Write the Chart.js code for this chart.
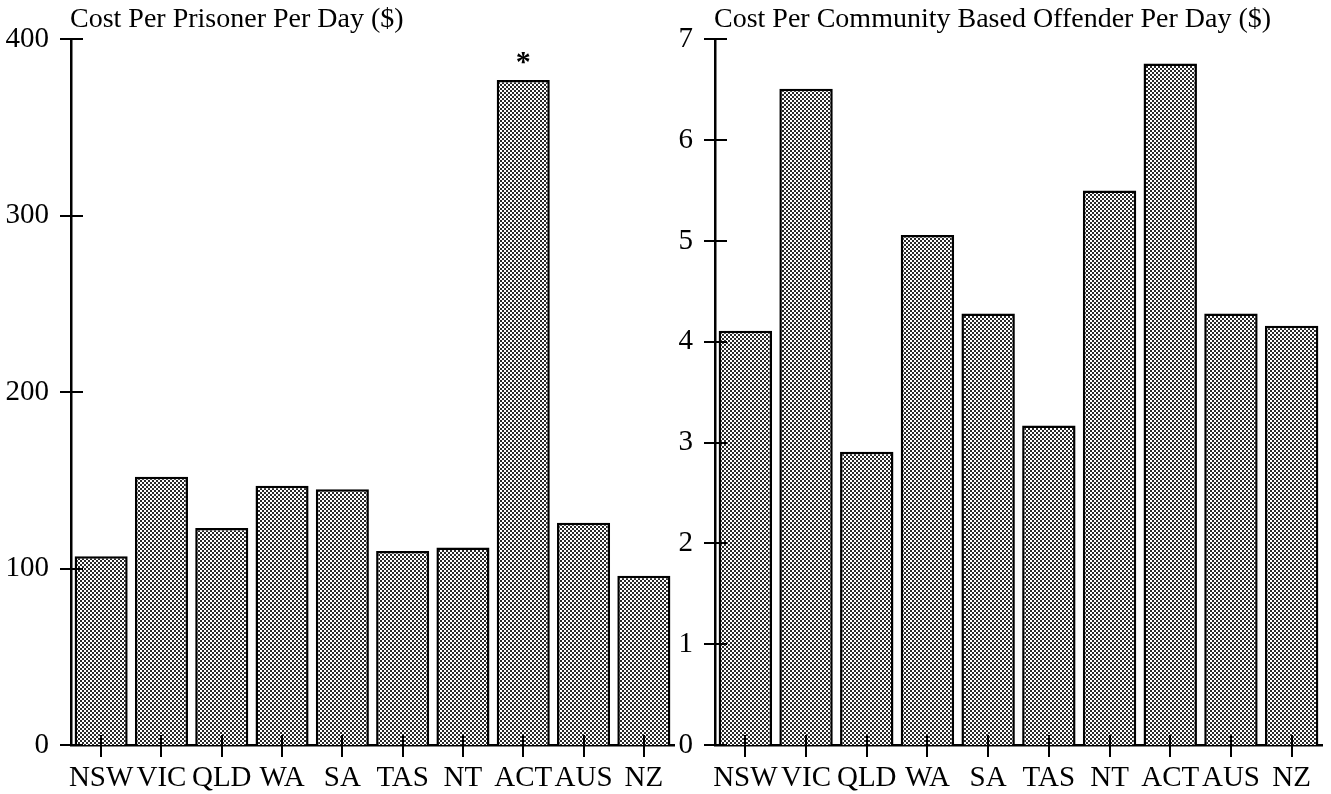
<!DOCTYPE html>
<html><head><meta charset="utf-8">
<script src="https://cdn.jsdelivr.net/npm/chart.js@4"></script>
<style>
html,body{margin:0;padding:0;background:#fff;width:1331px;height:794px;overflow:hidden}
canvas{position:absolute;top:0}
#c1{left:0}
#c2{left:676px}
</style></head><body>
<canvas id="c1" width="680" height="794"></canvas>
<canvas id="c2" width="655" height="794"></canvas>
<script>
const categories = ['NSW','VIC','QLD','WA','SA','TAS','NT','ACT','AUS','NZ'];
const prisonerCost = [107,152,123,147,145,110,112,377,126,96];
const communityCost = [4.11,6.51,2.91,5.06,4.28,3.17,5.50,6.76,4.28,4.16];
const prisonerTicks = [0,100,200,300,400];
const communityTicks = [0,1,2,3,4,5,6,7];
const prisonerTitle = 'Cost Per Prisoner Per Day ($)';
const communityTitle = 'Cost Per Community Based Offender Per Day ($)';
const markedCategory = 'ACT';

Chart.defaults.font.family = '"Liberation Serif", "Times New Roman", serif';
Chart.defaults.font.size = 29;
Chart.defaults.color = '#000';

function makePattern(ctx){
  const c = document.createElement('canvas');
  c.width = 4; c.height = 4;
  const g = c.getContext('2d');
  g.fillStyle = '#fff'; g.fillRect(0,0,4,4);
  g.fillStyle = '#2a2a2a';
  g.fillRect(0,0,2,2); g.fillRect(2,2,2,2);
  return ctx.createPattern(c,'repeat');
}

const decor = {
  id:'decor',
  afterDraw(chart, args, opts){
    const {ctx, chartArea:a, scales:{x,y}} = chart;
    ctx.save();
    ctx.strokeStyle = '#000'; ctx.lineWidth = 2;
    y.ticks.forEach((t,i)=>{
      const py = Math.round(y.getPixelForTick(i));
      ctx.beginPath(); ctx.moveTo(a.left-11,py); ctx.lineTo(a.left+12,py); ctx.stroke();
    });
    x.ticks.forEach((t,i)=>{
      const px = Math.round(x.getPixelForTick(i));
      ctx.beginPath(); ctx.moveTo(px,a.bottom-10); ctx.lineTo(px,a.bottom+12); ctx.stroke();
    });
    ctx.fillStyle = '#000';
    ctx.font = '28px "Liberation Serif"';
    ctx.textBaseline = 'alphabetic'; ctx.textAlign = 'left';
    ctx.fillText(opts.title, a.left-1, 27);
    if (opts.mark){
      const idx = chart.data.labels.indexOf(opts.mark);
      if (idx >= 0){
        const bar = chart.getDatasetMeta(0).data[idx];
        ctx.font = 'bold 30px "Liberation Serif"';
        const m = ctx.measureText('*');
        ctx.textAlign = 'center';
        const cy = bar.y - 22;
        ctx.fillText('*', bar.x, cy + (m.actualBoundingBoxAscent - m.actualBoundingBoxDescent)/2);
      }
    }
    ctx.restore();
  }
};

function build(id, values, ticks, max, title, mark, yWidth, padTop, padRight){
  const cv = document.getElementById(id);
  const ctx = cv.getContext('2d');
  return new Chart(ctx, {
    type:'bar',
    data:{
      labels: categories,
      datasets:[{
        data: values,
        backgroundColor: makePattern(ctx),
        borderColor:'#000',
        borderWidth:2.5,
        barPercentage:0.88,
        categoryPercentage:1
      }]
    },
    options:{
      responsive:false,
      animation:false,
      devicePixelRatio:1,
      layout:{padding:{top:padTop,right:padRight,left:0,bottom:0}},
      plugins:{legend:{display:false},tooltip:{enabled:false},decor:{title:title,mark:mark}},
      scales:{
        x:{
          grid:{display:false,drawTicks:false},
          border:{display:true,color:'#000',width:2.5},
          ticks:{padding:16,maxRotation:0,autoSkip:false},
          afterFit(s){ s.height = 49; }
        },
        y:{
          min:0,max:max,
          grid:{display:false,drawTicks:false},
          border:{display:true,color:'#000',width:2.5},
          ticks:{padding:22},
          afterBuildTicks(s){ s.ticks = ticks.map(v=>({value:v})); },
          afterFit(s){ s.width = yWidth; }
        }
      }
    },
    plugins:[decor]
  });
}

build('c1', prisonerCost, prisonerTicks, 400, prisonerTitle, markedCategory, 71, 38.5, 6);
build('c2', communityCost, communityTicks, 7, communityTitle, null, 39, 39, 9);
</script>
</body></html>
